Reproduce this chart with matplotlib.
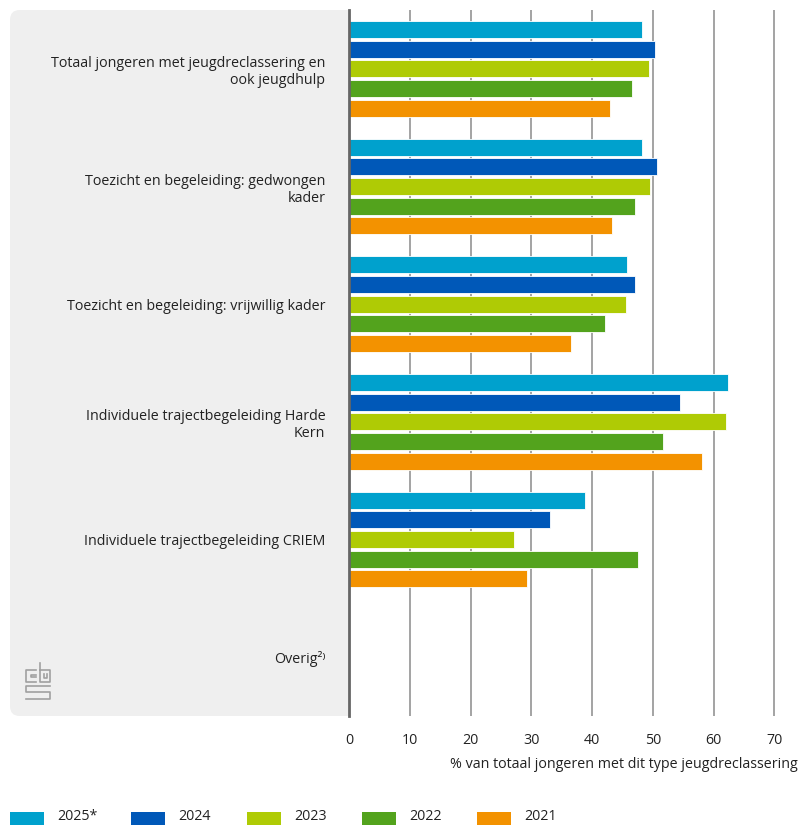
import matplotlib
matplotlib.use("Agg")
import matplotlib.pyplot as plt
from matplotlib.patches import FancyBboxPatch, Rectangle
import numpy as np

plt.rcParams['font.family'] = ['Open Sans', 'DejaVu Sans']

categories = [
    "Totaal jongeren met jeugdreclassering en\nook jeugdhulp",
    "Toezicht en begeleiding: gedwongen\nkader",
    "Toezicht en begeleiding: vrijwillig kader",
    "Individuele trajectbegeleiding Harde\nKern",
    "Individuele trajectbegeleiding CRIEM",
    "Overig²⁾",
]
years = ["2025*", "2024", "2023", "2022", "2021"]
v2025 = [48.2, 48.2, 45.8, 62.3, 38.8, np.nan]
v2024 = [50.4, 50.6, 47.1, 54.5, 33.0, np.nan]
v2023 = [49.3, 49.5, 45.6, 62.1, 27.1, np.nan]
v2022 = [46.6, 47.1, 42.1, 51.6, 47.5, np.nan]
v2021 = [42.9, 43.2, 36.6, 58.0, 29.3, np.nan]
series = [v2025, v2024, v2023, v2022, v2021]
colors = ["#00a1cd", "#0058b8", "#afcb05", "#53a31d", "#f39200"]

W, H = 800, 825
FS = 10.3
fig = plt.figure(figsize=(8, 8.25), dpi=100)

# grey label panel, behind the axes
panel = FancyBboxPatch((10 / W, 109 / H), 360 / W, 706 / H,
                       boxstyle="round,pad=0,rounding_size=0.012",
                       transform=fig.transFigure, facecolor="#efefef",
                       edgecolor="none", zorder=-5)
fig.patches.append(panel)

ax = fig.add_axes([349 / W, 1 - 716 / H, 451 / W, 706 / H])
ax.set_facecolor("white")
ax.set_zorder(2)

y = np.arange(len(categories))
slot = 0.1674
bh = 0.1445
for j, (vals, c) in enumerate(zip(series, colors)):
    ax.barh(y + (j - 2) * slot, vals, height=bh, color=c,
            edgecolor="white", linewidth=0.6, zorder=3)

ax.set_ylim(5.5, -0.5)
ax.set_xlim(0, 74.2)
ax.set_xticks(range(0, 80, 10))
ax.set_yticks(y)
ax.set_yticklabels(categories, fontsize=FS, color="#222222")
ax.tick_params(axis="y", length=0, pad=17)
ax.tick_params(axis="x", length=0, pad=12, labelsize=FS, labelcolor="#222222")
ax.grid(axis="x", color="#8a8a8a", linewidth=1.1, zorder=1)
ax.set_axisbelow(True)
for s in ["top", "right", "bottom"]:
    ax.spines[s].set_visible(False)
ax.spines["left"].set_color("#666666")
ax.spines["left"].set_linewidth(2)
ax.spines["left"].set_zorder(4)

fig.text(798 / W, 1 - 765 / H,
         "% van totaal jongeren met dit type jeugdreclassering",
         ha="right", va="center", fontsize=FS, color="#222222")

# legend
lx = [10, 131, 247, 362, 477]
for x0, lab, c in zip(lx, years, colors):
    fig.patches.append(Rectangle((x0 / W, 1 - 825 / H), 34 / W, 13 / H,
                                 transform=fig.transFigure, facecolor=c,
                                 edgecolor="none"))
    fig.text((x0 + 47) / W, 1 - 817 / H, lab, ha="left", va="center",
             fontsize=FS, color="#222222")

# small cbs logo
lc = "#a0a0a0"
def fl(xs, ys):
    fig.add_artist(plt.Line2D([v / W for v in xs], [1 - v / H for v in ys],
                              color=lc, linewidth=1.2, transform=fig.transFigure))
fl([36, 26, 26, 36], [670, 670, 682, 682])
fl([36, 31, 31, 36], [675, 675, 677, 677])
fl([40, 40, 50, 50, 40], [663, 682, 682, 670, 670])
fl([44, 44, 47, 47], [674, 678, 678, 674])
fl([50, 26, 26, 50, 50, 26], [686, 686, 692, 692, 699, 699])

fig.savefig("out.png", dpi=100)
